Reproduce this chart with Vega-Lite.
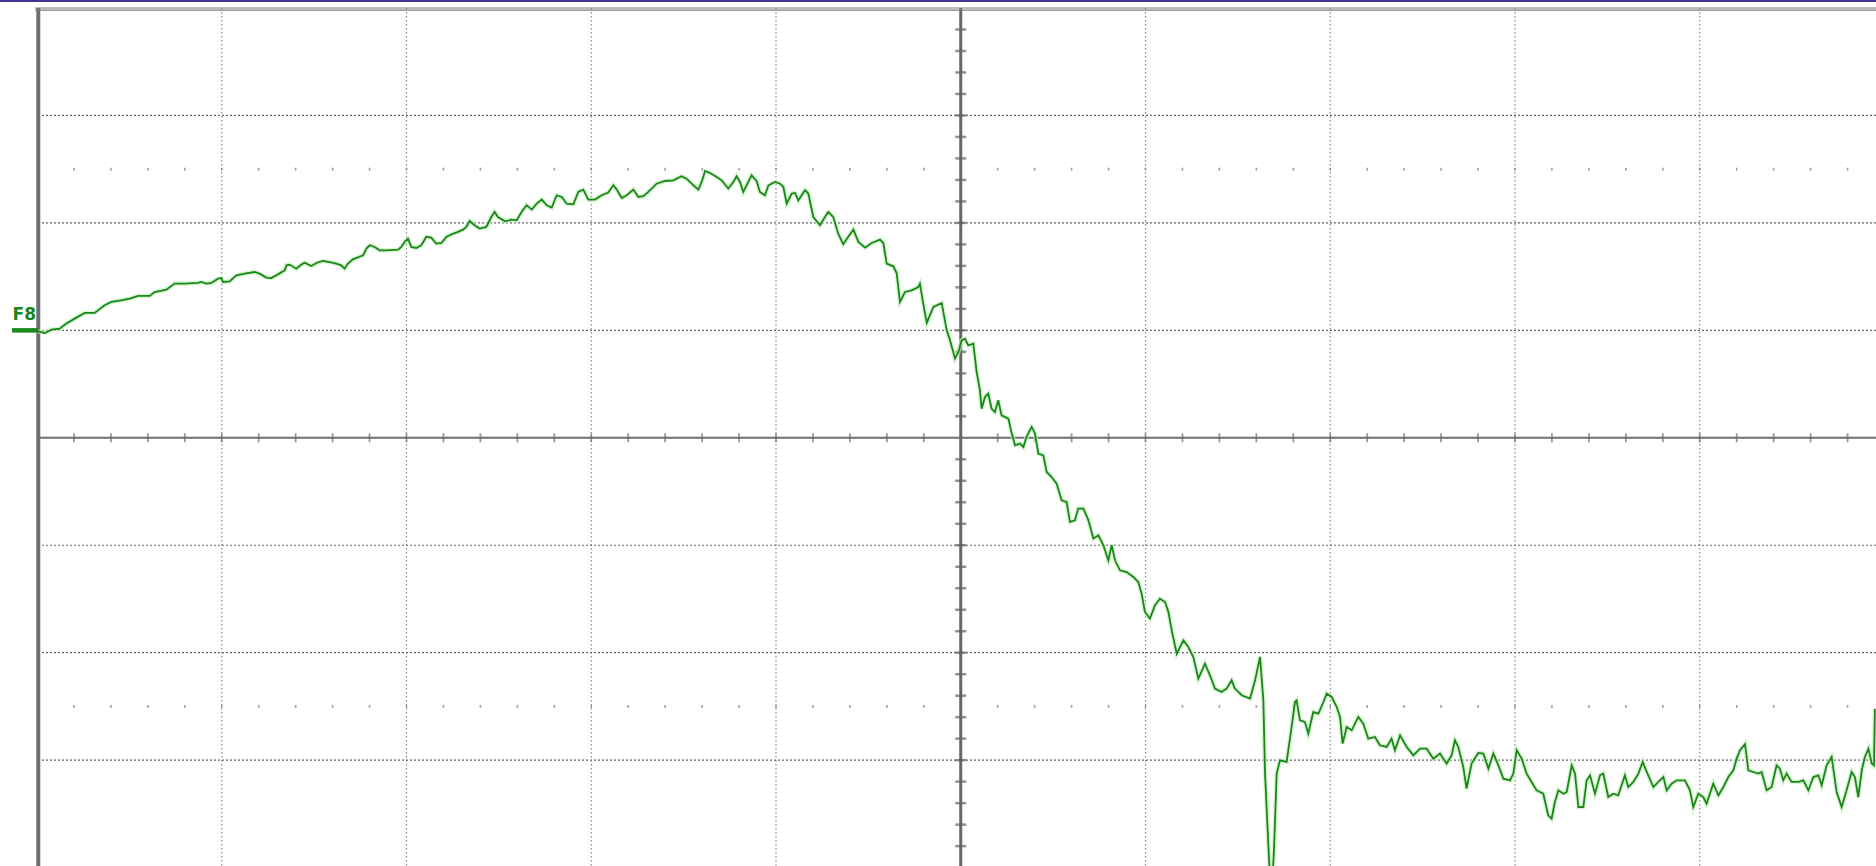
{
  "$schema": "https://vega.github.io/schema/vega-lite/v6.json",
  "width": 1839,
  "height": 858,
  "autosize": {"type": "none"},
  "padding": {"left": 37, "top": 8, "right": 0, "bottom": 0},
  "background": "white",
  "config": {"view": {"stroke": null}},
  "datasets": {
    "trace": [
      {"x":0.005,"y":0.991},{"x":0.042,"y":0.976},{"x":0.078,"y":1.007},{"x":0.123,"y":1.016},{"x":0.159,"y":1.063},{"x":0.204,"y":1.109},{"x":0.258,"y":1.162},{"x":0.312,"y":1.162},{"x":0.366,"y":1.233},{"x":0.402,"y":1.264},{"x":0.456,"y":1.28},{"x":0.502,"y":1.295},{"x":0.547,"y":1.32},{"x":0.61,"y":1.32},{"x":0.637,"y":1.357},{"x":0.7,"y":1.379},{"x":0.745,"y":1.435},{"x":0.799,"y":1.435},{"x":0.871,"y":1.441},{"x":0.889,"y":1.45},{"x":0.917,"y":1.435},{"x":0.944,"y":1.441},{"x":0.98,"y":1.481},{"x":0.998,"y":1.487},{"x":1.007,"y":1.45},{"x":1.043,"y":1.456},{"x":1.079,"y":1.512},{"x":1.124,"y":1.528},{"x":1.178,"y":1.543},{"x":1.205,"y":1.528},{"x":1.241,"y":1.491},{"x":1.268,"y":1.487},{"x":1.304,"y":1.521},{"x":1.341,"y":1.559},{"x":1.35,"y":1.605},{"x":1.368,"y":1.612},{"x":1.404,"y":1.574},{"x":1.431,"y":1.612},{"x":1.449,"y":1.63},{"x":1.485,"y":1.599},{"x":1.512,"y":1.627},{"x":1.548,"y":1.646},{"x":1.584,"y":1.636},{"x":1.62,"y":1.621},{"x":1.647,"y":1.605},{"x":1.665,"y":1.574},{"x":1.683,"y":1.621},{"x":1.71,"y":1.661},{"x":1.765,"y":1.698},{"x":1.783,"y":1.761},{"x":1.801,"y":1.792},{"x":1.828,"y":1.776},{"x":1.855,"y":1.745},{"x":1.891,"y":1.745},{"x":1.954,"y":1.751},{"x":1.972,"y":1.776},{"x":1.99,"y":1.823},{"x":2.008,"y":1.854},{"x":2.026,"y":1.776},{"x":2.053,"y":1.767},{"x":2.08,"y":1.792},{"x":2.107,"y":1.871},{"x":2.134,"y":1.863},{"x":2.161,"y":1.807},{"x":2.189,"y":1.813},{"x":2.216,"y":1.869},{"x":2.243,"y":1.894},{"x":2.279,"y":1.916},{"x":2.306,"y":1.937},{"x":2.324,"y":1.962},{"x":2.342,"y":2.018},{"x":2.369,"y":1.978},{"x":2.396,"y":1.947},{"x":2.432,"y":1.962},{"x":2.459,"y":2.055},{"x":2.477,"y":2.102},{"x":2.495,"y":2.055},
      {"x":2.533,"y":2.015},{"x":2.569,"y":2.03},{"x":2.596,"y":2.024},{"x":2.623,"y":2.102},{"x":2.65,"y":2.164},{"x":2.678,"y":2.124},{"x":2.705,"y":2.179},{"x":2.732,"y":2.217},{"x":2.759,"y":2.164},{"x":2.786,"y":2.142},{"x":2.813,"y":2.257},{"x":2.84,"y":2.241},{"x":2.867,"y":2.179},{"x":2.903,"y":2.173},{"x":2.93,"y":2.288},{"x":2.957,"y":2.31},{"x":2.984,"y":2.217},{"x":3.02,"y":2.217},{"x":3.056,"y":2.257},{"x":3.092,"y":2.282},{"x":3.12,"y":2.35},{"x":3.138,"y":2.31},{"x":3.165,"y":2.232},{"x":3.192,"y":2.257},{"x":3.228,"y":2.31},{"x":3.255,"y":2.241},{"x":3.282,"y":2.248},{"x":3.309,"y":2.288},{"x":3.354,"y":2.365},{"x":3.399,"y":2.39},{"x":3.444,"y":2.396},{"x":3.489,"y":2.434},{"x":3.516,"y":2.412},{"x":3.553,"y":2.35},{"x":3.58,"y":2.31},{"x":3.598,"y":2.381},{"x":3.616,"y":2.483},{"x":3.643,"y":2.465},{"x":3.679,"y":2.428},{"x":3.706,"y":2.396},{"x":3.742,"y":2.319},{"x":3.769,"y":2.381},{"x":3.787,"y":2.434},{"x":3.805,"y":2.381},{"x":3.823,"y":2.288},{"x":3.85,"y":2.381},{"x":3.868,"y":2.443},{"x":3.895,"y":2.39},{"x":3.913,"y":2.288},{"x":3.94,"y":2.257},{"x":3.959,"y":2.35},{"x":3.995,"y":2.381},{"x":4.022,"y":2.365},{"x":4.04,"y":2.334},{"x":4.058,"y":2.179},{"x":4.085,"y":2.273},{"x":4.103,"y":2.279},{"x":4.121,"y":2.21},{"x":4.157,"y":2.304},{"x":4.175,"y":2.273},{"x":4.202,"y":2.055},{"x":4.238,"y":1.978},{"x":4.265,"y":2.055},{"x":4.283,"y":2.102},{"x":4.31,"y":2.055},{"x":4.337,"y":1.9},{"x":4.364,"y":1.801},{"x":4.391,"y":1.871},{"x":4.419,"y":1.937},{"x":4.446,"y":1.823},{"x":4.482,"y":1.77},{"x":4.518,"y":1.813},{"x":4.563,"y":1.844},{"x":4.581,"y":1.813},{"x":4.599,"y":1.621},{"x":4.635,"y":1.596},{"x":4.653,"y":1.534},{"x":4.671,"y":1.264},{"x":4.698,"y":1.357},{"x":4.734,"y":1.372},{"x":4.77,"y":1.403},{"x":4.779,"y":1.435},{"x":4.797,"y":1.249},{"x":4.816,"y":1.069},{"x":4.852,"y":1.218},{"x":4.897,"y":1.255},{"x":4.924,"y":1.0},{"x":4.942,"y":0.907},{"x":4.969,"y":0.737},{"x":4.987,"y":0.799},
      {"x":5.005,"y":0.907},{"x":5.023,"y":0.923},{"x":5.041,"y":0.861},{"x":5.068,"y":0.876},{"x":5.086,"y":0.613},{"x":5.104,"y":0.442},{"x":5.113,"y":0.271},{"x":5.131,"y":0.38},{"x":5.149,"y":0.411},{"x":5.167,"y":0.271},{"x":5.185,"y":0.24},{"x":5.203,"y":0.349},{"x":5.221,"y":0.209},{"x":5.258,"y":0.178},{"x":5.276,"y":0.039},{"x":5.294,"y":-0.07},{"x":5.321,"y":-0.054},{"x":5.339,"y":-0.085},{"x":5.357,"y":0.014},{"x":5.384,"y":0.101},{"x":5.402,"y":0.039},{"x":5.42,"y":-0.147},{"x":5.447,"y":-0.163},{"x":5.465,"y":-0.318},{"x":5.492,"y":-0.365},{"x":5.519,"y":-0.427},{"x":5.546,"y":-0.582},{"x":5.573,"y":-0.597},{"x":5.591,"y":-0.783},{"x":5.618,"y":-0.768},{"x":5.636,"y":-0.659},{"x":5.664,"y":-0.659},{"x":5.691,"y":-0.768},{"x":5.718,"y":-0.938},{"x":5.745,"y":-0.907},{"x":5.772,"y":-1.0},{"x":5.799,"y":-1.14},{"x":5.817,"y":-1.0},{"x":5.835,"y":-1.14},{"x":5.862,"y":-1.233},{"x":5.898,"y":-1.249},{"x":5.934,"y":-1.295},{"x":5.961,"y":-1.342},{"x":5.979,"y":-1.45},{"x":5.997,"y":-1.621},{"x":6.024,"y":-1.683},{"x":6.051,"y":-1.559},{"x":6.078,"y":-1.497},{"x":6.106,"y":-1.528},{"x":6.124,"y":-1.621},{"x":6.142,"y":-1.792},{"x":6.169,"y":-2.009},{"x":6.205,"y":-1.885},{"x":6.232,"y":-1.947},{"x":6.259,"y":-2.04},{"x":6.286,"y":-2.241},{"x":6.322,"y":-2.102},{"x":6.349,"y":-2.21},{"x":6.376,"y":-2.334},{"x":6.412,"y":-2.365},{"x":6.439,"y":-2.334},{"x":6.466,"y":-2.257},{"x":6.484,"y":-2.334},{"x":6.521,"y":-2.396},{"x":6.566,"y":-2.427},
      {"x":6.593,"y":-2.257},{"x":6.62,"y":-2.04},{"x":6.638,"y":-2.443},{"x":6.647,"y":-3.125},{"x":6.665,"y":-3.792},{"x":6.674,"y":-4.1},{"x":6.688,"y":-4.1},{"x":6.696,"y":-3.808},{"x":6.71,"y":-3.125},{"x":6.728,"y":-3.001},{"x":6.764,"y":-3.017},{"x":6.791,"y":-2.691},{"x":6.809,"y":-2.459},{"x":6.818,"y":-2.443},{"x":6.836,"y":-2.629},{"x":6.863,"y":-2.645},{"x":6.881,"y":-2.753},{"x":6.908,"y":-2.552},{"x":6.936,"y":-2.567},{"x":6.963,"y":-2.459},{"x":6.981,"y":-2.381},{"x":7.008,"y":-2.412},{"x":7.035,"y":-2.505},{"x":7.053,"y":-2.598},{"x":7.067,"y":-2.846},{"x":7.089,"y":-2.691},{"x":7.116,"y":-2.722},{"x":7.152,"y":-2.598},{"x":7.179,"y":-2.66},{"x":7.206,"y":-2.8},{"x":7.242,"y":-2.784},{"x":7.269,"y":-2.862},{"x":7.305,"y":-2.877},{"x":7.332,"y":-2.8},{"x":7.35,"y":-2.908},{"x":7.378,"y":-2.769},{"x":7.414,"y":-2.877},{"x":7.45,"y":-2.955},{"x":7.486,"y":-2.893},{"x":7.522,"y":-2.893},{"x":7.558,"y":-2.986},{"x":7.594,"y":-2.939},{"x":7.63,"y":-3.032},{"x":7.657,"y":-2.955},{"x":7.675,"y":-2.815},{"x":7.693,"y":-2.877},{"x":7.72,"y":-3.063},{"x":7.738,"y":-3.265},{"x":7.765,"y":-3.032},{"x":7.801,"y":-2.933},{"x":7.829,"y":-2.939},{"x":7.856,"y":-3.079},{"x":7.883,"y":-2.939},{"x":7.91,"y":-3.048},{"x":7.937,"y":-3.172},{"x":7.973,"y":-3.188},{"x":7.991,"y":-3.125},{"x":8.009,"y":-2.908},{"x":8.036,"y":-2.986},{"x":8.063,"y":-3.125},{"x":8.09,"y":-3.203},{"x":8.117,"y":-3.281},{"x":8.153,"y":-3.312},{"x":8.18,"y":-3.513},
      {"x":8.198,"y":-3.544},{"x":8.216,"y":-3.389},{"x":8.235,"y":-3.281},{"x":8.262,"y":-3.312},{"x":8.28,"y":-3.296},{"x":8.307,"y":-3.048},{"x":8.325,"y":-3.125},{"x":8.343,"y":-3.436},{"x":8.37,"y":-3.436},{"x":8.388,"y":-3.188},{"x":8.406,"y":-3.141},{"x":8.433,"y":-3.312},{"x":8.46,"y":-3.141},{"x":8.478,"y":-3.125},{"x":8.505,"y":-3.343},{"x":8.532,"y":-3.312},{"x":8.559,"y":-3.327},{"x":8.595,"y":-3.141},{"x":8.613,"y":-3.25},{"x":8.641,"y":-3.203},{"x":8.668,"y":-3.125},{"x":8.691,"y":-3.017},{"x":8.713,"y":-3.11},{"x":8.749,"y":-3.25},{"x":8.776,"y":-3.203},{"x":8.803,"y":-3.157},{"x":8.821,"y":-3.281},{"x":8.848,"y":-3.219},{"x":8.875,"y":-3.188},{"x":8.92,"y":-3.188},{"x":8.947,"y":-3.281},{"x":8.965,"y":-3.436},{"x":8.992,"y":-3.312},{"x":9.019,"y":-3.343},{"x":9.037,"y":-3.405},{"x":9.073,"y":-3.219},{"x":9.101,"y":-3.327},{"x":9.128,"y":-3.25},{"x":9.155,"y":-3.157},{"x":9.182,"y":-3.094},{"x":9.2,"y":-2.986},{"x":9.218,"y":-2.908},{"x":9.245,"y":-2.852},{"x":9.263,"y":-3.094},{"x":9.29,"y":-3.11},{"x":9.317,"y":-3.125},{"x":9.335,"y":-3.11},{"x":9.362,"y":-3.281},{"x":9.389,"y":-3.25},{"x":9.416,"y":-3.048},{"x":9.434,"y":-3.079},{"x":9.452,"y":-3.188},{"x":9.47,"y":-3.125},{"x":9.497,"y":-3.203},{"x":9.534,"y":-3.203},{"x":9.561,"y":-3.188},{"x":9.588,"y":-3.281},{"x":9.615,"y":-3.157},{"x":9.642,"y":-3.141},{"x":9.66,"y":-3.234},{"x":9.687,"y":-3.048},{"x":9.714,"y":-2.97},{"x":9.741,"y":-3.296},{"x":9.768,"y":-3.436},{"x":9.795,"y":-3.281},{"x":9.822,"y":-3.11},{"x":9.84,"y":-3.157},{"x":9.858,"y":-3.343},{"x":9.877,"y":-3.094},{"x":9.894,"y":-2.97},{"x":9.913,"y":-2.893},{"x":9.931,"y":-3.032},{"x":9.943,"y":-3.048},{"x":9.948,"y":-2.521}
    ],
    "gridv": [{"x":1},{"x":2},{"x":3},{"x":4},{"x":6},{"x":7},{"x":8},{"x":9}],
    "gridh": [{"y":-3},{"y":-2},{"y":-1},{"y":1},{"y":2},{"y":3}],
    "minorx": [{"x":0.2},{"x":0.4},{"x":0.6},{"x":0.8},{"x":1},{"x":1.2},{"x":1.4},{"x":1.6},{"x":1.8},{"x":2},{"x":2.2},{"x":2.4},{"x":2.6},{"x":2.8},{"x":3},{"x":3.2},{"x":3.4},{"x":3.6},{"x":3.8},{"x":4},{"x":4.2},{"x":4.4},{"x":4.6},{"x":4.8},{"x":5.2},{"x":5.4},{"x":5.6},{"x":5.8},{"x":6},{"x":6.2},{"x":6.4},{"x":6.6},{"x":6.8},{"x":7},{"x":7.2},{"x":7.4},{"x":7.6},{"x":7.8},{"x":8},{"x":8.2},{"x":8.4},{"x":8.6},{"x":8.8},{"x":9},{"x":9.2},{"x":9.4},{"x":9.6},{"x":9.8}],
    "minory": [{"y":-3.8},{"y":-3.6},{"y":-3.4},{"y":-3.2},{"y":-3},{"y":-2.8},{"y":-2.6},{"y":-2.4},{"y":-2.2},{"y":-2},{"y":-1.8},{"y":-1.6},{"y":-1.4},{"y":-1.2},{"y":-1},{"y":-0.8},{"y":-0.6},{"y":-0.4},{"y":-0.2},{"y":0.2},{"y":0.4},{"y":0.6},{"y":0.8},{"y":1},{"y":1.2},{"y":1.4},{"y":1.6},{"y":1.8},{"y":2},{"y":2.2},{"y":2.4},{"y":2.6},{"y":2.8},{"y":3},{"y":3.2},{"y":3.4},{"y":3.6},{"y":3.8}]
  },
  "layer": [
    {
      "data": {"name": "gridv"},
      "mark": {"type": "rule", "color": "#808080", "strokeWidth": 1.1, "strokeDash": [1.5, 2.5]},
      "encoding": {"x": {"field": "x", "type": "quantitative", "scale": {"domain": [0, 9.954], "nice": false, "zero": false}, "axis": null}}
    },
    {
      "data": {"name": "gridh"},
      "mark": {"type": "rule", "color": "#656565", "strokeWidth": 1.2, "strokeDash": [2, 2]},
      "encoding": {"y": {"field": "y", "type": "quantitative", "scale": {"domain": [-3.985, 4], "nice": false, "zero": false}, "axis": null}}
    },
    {
      "data": {"name": "minorx"},
      "mark": {"type": "tick", "orient": "vertical", "color": "#7a7a7a", "size": 3, "thickness": 1.6},
      "encoding": {
        "x": {"field": "x", "type": "quantitative", "scale": {"domain": [0, 9.954], "nice": false, "zero": false}, "axis": null},
        "y": {"datum": 2.5, "type": "quantitative", "scale": {"domain": [-3.985, 4], "nice": false, "zero": false}, "axis": null}
      }
    },
    {
      "data": {"name": "minorx"},
      "mark": {"type": "tick", "orient": "vertical", "color": "#7a7a7a", "size": 3, "thickness": 1.6},
      "encoding": {
        "x": {"field": "x", "type": "quantitative", "scale": {"domain": [0, 9.954], "nice": false, "zero": false}, "axis": null},
        "y": {"datum": -2.5, "type": "quantitative", "scale": {"domain": [-3.985, 4], "nice": false, "zero": false}, "axis": null}
      }
    },
    {
      "data": {"values": [{"y": 0}]},
      "mark": {"type": "rule", "color": "#707070", "strokeWidth": 2},
      "encoding": {"y": {"field": "y", "type": "quantitative", "scale": {"domain": [-3.985, 4], "nice": false, "zero": false}, "axis": null}}
    },
    {
      "data": {"values": [{"x": 5}]},
      "mark": {"type": "rule", "color": "#666666", "strokeWidth": 3},
      "encoding": {"x": {"field": "x", "type": "quantitative", "scale": {"domain": [0, 9.954], "nice": false, "zero": false}, "axis": null}}
    },
    {
      "data": {"name": "minorx"},
      "mark": {"type": "tick", "orient": "vertical", "color": "#6a6a6a", "size": 9, "thickness": 1.8},
      "encoding": {
        "x": {"field": "x", "type": "quantitative", "scale": {"domain": [0, 9.954], "nice": false, "zero": false}, "axis": null},
        "y": {"datum": 0, "type": "quantitative", "scale": {"domain": [-3.985, 4], "nice": false, "zero": false}, "axis": null}
      }
    },
    {
      "data": {"name": "minory"},
      "mark": {"type": "tick", "orient": "horizontal", "color": "#626262", "size": 11, "thickness": 2.5},
      "encoding": {
        "x": {"datum": 5, "type": "quantitative", "scale": {"domain": [0, 9.954], "nice": false, "zero": false}, "axis": null},
        "y": {"field": "y", "type": "quantitative", "scale": {"domain": [-3.985, 4], "nice": false, "zero": false}, "axis": null}
      }
    },
    {
      "data": {"values": [{"x": 0.007}]},
      "mark": {"type": "rule", "color": "#6e6e6e", "strokeWidth": 4},
      "encoding": {"x": {"field": "x", "type": "quantitative", "scale": {"domain": [0, 9.954], "nice": false, "zero": false}, "axis": null}}
    },
    {
      "data": {"values": [{"x": -0.01, "x2": 10, "y": 4.0}, {"x": -0.01, "x2": 10, "y": 3.98}]},
      "mark": {"type": "rule", "color": "#7a7a7a", "strokeWidth": 1.2},
      "encoding": {
        "x": {"field": "x", "type": "quantitative", "scale": {"domain": [0, 9.954], "nice": false, "zero": false}, "axis": null},
        "x2": {"field": "x2"},
        "y": {"field": "y", "type": "quantitative", "scale": {"domain": [-3.985, 4], "nice": false, "zero": false}, "axis": null}
      }
    },
    {
      "data": {"values": [{"x": -0.21, "x2": 10.2, "y": 4.066}]},
      "mark": {"type": "rule", "color": "#40358a", "strokeWidth": 2},
      "encoding": {
        "x": {"field": "x", "type": "quantitative", "scale": {"domain": [0, 9.954], "nice": false, "zero": false}, "axis": null},
        "x2": {"field": "x2"},
        "y": {"field": "y", "type": "quantitative", "scale": {"domain": [-3.985, 4], "nice": false, "zero": false}, "axis": null}
      }
    },
    {
      "data": {"name": "trace"},
      "mark": {"type": "line", "color": "#c4f0bc", "strokeWidth": 4.5, "opacity": 0.7, "clip": true},
      "encoding": {
        "x": {"field": "x", "type": "quantitative", "scale": {"domain": [0, 9.954], "nice": false, "zero": false}, "axis": null},
        "y": {"field": "y", "type": "quantitative", "scale": {"domain": [-3.985, 4], "nice": false, "zero": false}, "axis": null}
      }
    },
    {
      "data": {"name": "trace"},
      "mark": {"type": "line", "color": "#1a871a", "strokeWidth": 1.8, "clip": true},
      "encoding": {
        "x": {"field": "x", "type": "quantitative", "scale": {"domain": [0, 9.954], "nice": false, "zero": false}, "axis": null},
        "y": {"field": "y", "type": "quantitative", "scale": {"domain": [-3.985, 4], "nice": false, "zero": false}, "axis": null}
      }
    },
    {
      "data": {"values": [{"x": -0.135, "x2": 0.006, "y": 1.0}]},
      "mark": {"type": "rule", "color": "#1a871a", "strokeWidth": 4.5},
      "encoding": {
        "x": {"field": "x", "type": "quantitative", "scale": {"domain": [0, 9.954], "nice": false, "zero": false}, "axis": null},
        "x2": {"field": "x2"},
        "y": {"field": "y", "type": "quantitative", "scale": {"domain": [-3.985, 4], "nice": false, "zero": false}, "axis": null}
      }
    },
    {
      "data": {"values": [{"x": -0.132, "y": 1.14, "label": "F8"}]},
      "mark": {"type": "text", "color": "#1a871a", "font": "DejaVu Sans", "fontSize": 17, "fontWeight": "bold", "align": "left", "baseline": "middle"},
      "encoding": {
        "x": {"field": "x", "type": "quantitative", "scale": {"domain": [0, 9.954], "nice": false, "zero": false}, "axis": null},
        "y": {"field": "y", "type": "quantitative", "scale": {"domain": [-3.985, 4], "nice": false, "zero": false}, "axis": null},
        "text": {"field": "label"}
      }
    }
  ]
}
